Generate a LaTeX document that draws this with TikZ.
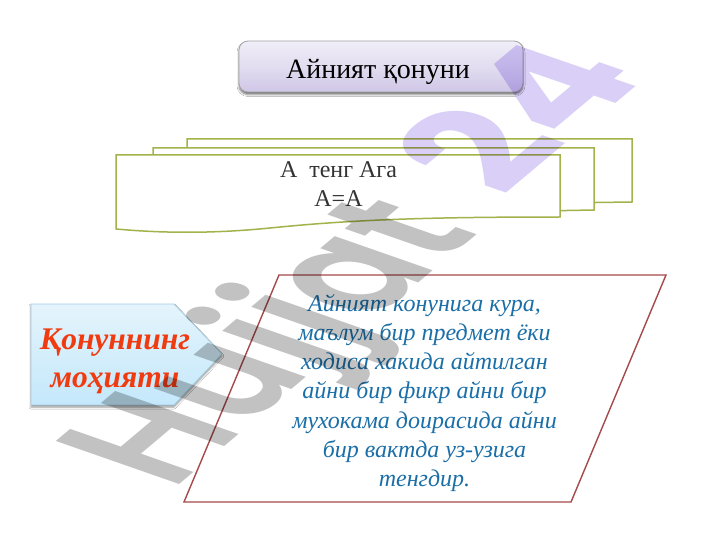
\documentclass[tikz,border=0pt]{standalone}
\usepackage{fontspec}
\setmainfont{Liberation Serif}
\setsansfont{Liberation Sans}
\newfontfamily\wmfont{Poppins SemiBold}
\newfontfamily\wmfontb{Poppins Bold}
\usetikzlibrary{shadows.blur}
\definecolor{olivel}{HTML}{A3B24A}
\definecolor{paraline}{HTML}{A5494A}
\definecolor{paratext}{HTML}{1B6FA8}
\definecolor{redtext}{HTML}{F03A10}
\definecolor{wmgray}{HTML}{C2C2C2}
\definecolor{wmviolet}{HTML}{D9CFF7}
\definecolor{titletop}{HTML}{F0EEF8}
\definecolor{titlemid}{HTML}{E2DDF0}
\definecolor{titlebot}{HTML}{CFC6E6}
\definecolor{pentop}{HTML}{E4F4FC}
\definecolor{penbot}{HTML}{C4E8FB}
\definecolor{penline}{HTML}{A4CBDD}
\tikzset{
  docshape/.style={draw=olivel,line width=1.5pt,fill=white,line join=miter},
  titlebox/.style={draw=black!35!white,line width=.8pt,rounded corners=9pt,top color=titletop,bottom color=titlebot,middle color=titlemid,blur shadow={shadow xshift=0pt,shadow yshift=-2.5pt,shadow blur radius=2pt,shadow opacity=55}},
  lab/.style={align=center,inner sep=0pt},
  wmtext/.style={transform shape,anchor=base west,inner sep=0pt,font=\wmfont\fontsize{190}{190}\selectfont},
  wmnum/.style={transform shape,anchor=base west,inner sep=0pt,font=\wmfontb\fontsize{190}{190}\selectfont}
}
\begin{document}
\begin{tikzpicture}[x=1pt,y=-1pt]
\useasboundingbox (0,0) rectangle (720,540);
\fill[white] (0,0) rectangle (720,540);

% title
\path[titlebox] (239,41) rectangle (523,92);
\node[lab,font=\fontsize{28}{32}\selectfont] (title) at (378,72) {Айният қонуни};

% stacked documents
\path[docshape] (187,139) -- (632,139) -- (632,202) -- (560,203) -- (187,203) -- cycle;
\path[docshape] (153,148) -- (594,148) -- (594,210) -- (540,211) -- (153,212) -- cycle;
\path[docshape] (116,155) -- (560,155) -- (560,217) .. controls (420,217) and (350,220) .. (270,228) .. controls (210,234) and (160,233) .. (116,229) -- cycle;
\node[lab,text=black!80,font=\fontsize{24}{29}\selectfont] (eq) at (338.5,184) {А\ \ тенг Ага\\А=А};

% pentagon
\path[draw=penline,line width=.8pt,top color=pentop,bottom color=penbot,blur shadow={shadow xshift=0pt,shadow yshift=-2pt,shadow blur radius=2pt,shadow opacity=45}] (31,304) -- (174,304) -- (222,354) -- (174,405) -- (31,405) -- cycle;
\node[lab,text=redtext,font=\bfseries\itshape\fontsize{31.5}{38}\selectfont] (law) at (115,361) {Қонуннинг\\моҳияти};

% parallelogram
\path[draw=paraline,line width=1.4pt] (279,275) -- (666,275) -- (571,502) -- (184,502) -- cycle;
\node[lab,text=paratext,font=\itshape\fontsize{24}{29.2}\selectfont] (para) at (424.5,393) {Айният конунига кура,\\маълум бир предмет ёки\\ходиса хакида айтилган\\айни бир фикр айни бир\\мухокама доирасида айни\\бир вактда уз-узига\\тенгдир.};

% watermark
\begin{scope}[blend mode=multiply]
\begin{scope}[cm={0.54,0.455,-0.93,0.325,(172,491)}]
\node[wmtext,text=wmgray] (wm1) at (0,0) {Hujjat};
\end{scope}
\begin{scope}[cm={0.62,0.52,-0.87,0.30,(503,198)}]
\node[wmnum,text=wmviolet] (wm2) at (0,0) {24};
\end{scope}
\end{scope}
\end{tikzpicture}
\end{document}
